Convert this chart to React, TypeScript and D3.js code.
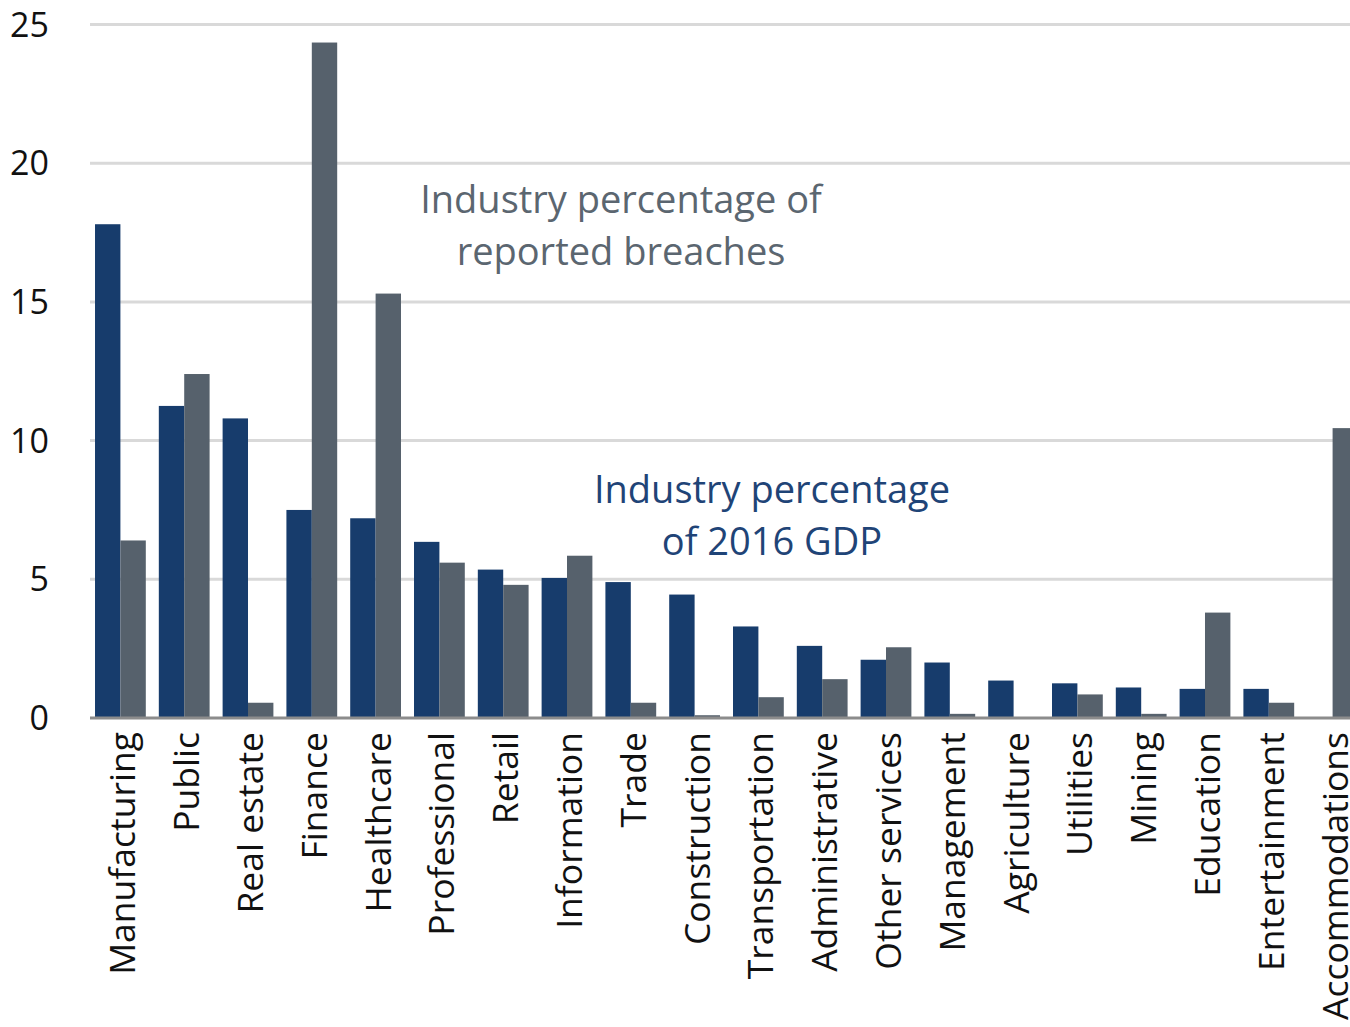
import * as d3 from "d3";

const categories = [
  "Manufacturing", "Public", "Real estate", "Finance", "Healthcare",
  "Professional", "Retail", "Information", "Trade", "Construction",
  "Transportation", "Administrative", "Other services", "Management",
  "Agriculture", "Utilities", "Mining", "Education", "Entertainment",
  "Accommodations",
];

// share of 2016 GDP (navy)
const gdpShare = [
  17.8, 11.25, 10.8, 7.5, 7.2, 6.35, 5.35, 5.05, 4.9, 4.45,
  3.3, 2.6, 2.1, 2.0, 1.35, 1.25, 1.1, 1.05, 1.05, 0,
];

// share of reported breaches (gray)
const breachShare = [
  6.4, 12.4, 0.55, 24.35, 15.3, 5.6, 4.8, 5.85, 0.55, 0.1,
  0.75, 1.4, 2.55, 0.15, 0, 0.85, 0.15, 3.8, 0.55, 10.45,
];

const yTicks = [0, 5, 10, 15, 20, 25];
const series = ["gdp", "breach"];

const W = 1350;
const H = 1027;
const NAVY = "#173c6c";
const GRAY = "#56616c";
const FONT = "'Open Sans', 'Noto Sans', sans-serif";

export default function App() {
  const x0 = d3
    .scaleBand()
    .domain(categories)
    .range([82, 1371])
    .paddingInner(0.204)
    .paddingOuter(0.204);

  const x1 = d3.scaleBand().domain(series).range([0, x0.bandwidth()]);

  const y = d3.scaleLinear().domain([0, 25]).range([718, 24.5]);

  return (
    <svg
      width={W}
      height={H}
      style={{ position: "absolute", left: 0, top: 0, background: "#fff" }}
      fontFamily={FONT}
    >
      {/* gridlines */}
      {yTicks.filter((t) => t > 0).map((t) => (
        <line
          key={`grid-${t}`}
          x1={90}
          x2={W}
          y1={y(t)}
          y2={y(t)}
          stroke="#d9d9d9"
          strokeWidth={3}
        />
      ))}
      {yTicks.map((t) => (
        <text
          key={`yt-${t}`}
          x={49}
          y={y(t) - 1}
          textAnchor="end"
          dominantBaseline="central"
          fontSize={34}
          fill="#111"
        >
          {t}
        </text>
      ))}

      {categories.map((c, i) => (
        <g key={`cat-${c}`} transform={`translate(${x0(c)},0)`}>
          {gdpShare[i] > 0 && (
            <rect
              x={x1("gdp")}
              y={y(gdpShare[i])}
              width={x1.bandwidth()}
              height={y(0) - y(gdpShare[i])}
              fill={NAVY}
            />
          )}
          {breachShare[i] > 0 && (
            <rect
              x={x1("breach")}
              y={y(breachShare[i])}
              width={x1.bandwidth()}
              height={y(0) - y(breachShare[i])}
              fill={GRAY}
            />
          )}
          <text
            transform={`translate(${x0.bandwidth() / 2 + 1},732) rotate(-90)`}
            textAnchor="end"
            dominantBaseline="central"
            fontSize={35.5}
            fill="#111"
          >
            {c}
          </text>
        </g>
      ))}

      <line x1={90} x2={W} y1={y(0)} y2={y(0)} stroke="#8c8c8c" strokeWidth={3} />

      <text textAnchor="middle" fontSize={38} fill="#5b6670">
        <tspan x={621} y={213}>Industry percentage of</tspan>
        <tspan x={621} y={265}>reported breaches</tspan>
      </text>
      <text textAnchor="middle" fontSize={38} fill="#1f4477">
        <tspan x={772} y={503}>Industry percentage</tspan>
        <tspan x={772} y={555}>of 2016 GDP</tspan>
      </text>
    </svg>
  );
}
